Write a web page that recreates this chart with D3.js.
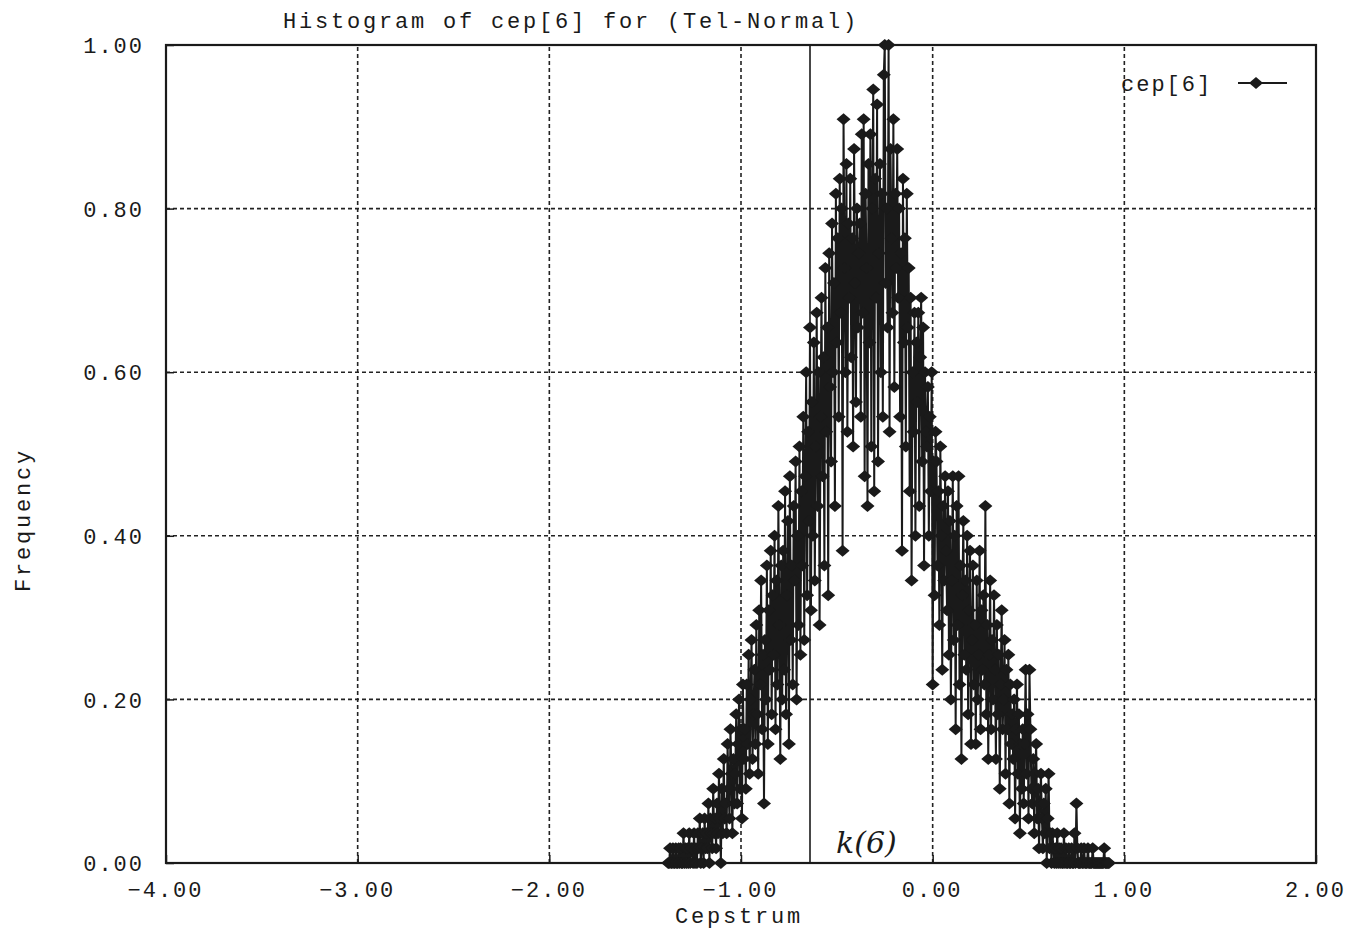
<!DOCTYPE html>
<html lang="en">
<head>
<meta charset="utf-8">
<title>Histogram of cep[6]</title>
<style>
  body { margin: 0; background: #fff; }
  svg { display: block; }
  text { font-family: "Liberation Mono", "DejaVu Sans Mono", monospace; fill: #1a1a1a; }
  .grid line { stroke: #222; stroke-width: 1.6; stroke-dasharray: 4,3; }
</style>
<script src="https://cdn.jsdelivr.net/npm/d3@7/dist/d3.min.js"></script>
</head>
<body>
<script>
// histogram of cep[6], bins of 0.005 starting at -1.38, counts scaled by the largest bin
var binStart = -1.38, binWidth = 0.005, maxCount = 55;
var counts = [
  0, 0, 1, 0, 0, 1, 0, 0, 1, 0,
  0, 1, 0, 1, 0, 0, 2, 0, 1, 0,
  1, 0, 2, 0, 1, 1, 0, 2, 0, 1,
  0, 2, 1, 3, 0, 1, 2, 0, 3, 1,
  2, 1, 4, 0, 3, 2, 1, 5, 2, 3,
  1, 4, 2, 6, 3, 0, 5, 2, 7, 3,
  4, 2, 8, 5, 3, 9, 6, 2, 7, 4,
  6, 10, 4, 8, 11, 5, 9, 3, 12, 7,
  9, 5, 12, 8, 14, 6, 11, 15, 7, 10,
  13, 8, 16, 10, 6, 17, 12, 19, 9, 14,
  4, 15, 11, 20, 8, 17, 13, 21, 10, 18,
  14, 22, 9, 19, 12, 24, 16, 7, 20, 11,
  21, 13, 25, 10, 18, 23, 8, 26, 15, 20,
  12, 24, 19, 27, 11, 22, 16, 28, 14, 25,
  20, 30, 15, 26, 33, 18, 29, 23, 36, 17,
  31, 22, 35, 19, 28, 37, 24, 33, 16, 30,
  38, 26, 34, 20, 40, 29, 36, 18, 41, 32,
  27, 43, 33, 39, 24, 45, 35, 42, 30, 46,
  37, 44, 21, 50, 40, 33, 47, 29, 43, 38,
  46, 34, 42, 28, 48, 39, 31, 44, 36, 41,
  43, 30, 49, 37, 50, 26, 45, 40, 24, 47,
  35, 49, 28, 44, 52, 25, 46, 38, 51, 27,
  41, 47, 33, 45, 30, 53, 55, 39, 44, 36,
  55, 29, 48, 42, 37, 50, 32, 45, 40, 48,
  38, 44, 30, 41, 21, 46, 35, 42, 28, 45,
  36, 40, 25, 38, 19, 33, 29, 37, 22, 35,
  31, 37, 24, 34, 38, 27, 36, 20, 33, 29,
  28, 32, 22, 30, 25, 33, 12, 27, 18, 29,
  27, 20, 25, 16, 28, 22, 13, 24, 19, 26,
  21, 17, 25, 14, 23, 11, 19, 26, 15, 22,
  9, 24, 16, 26, 12, 20, 7, 18, 23, 14,
  19, 13, 22, 10, 17, 21, 8, 15, 20, 12,
  16, 8, 19, 11, 14, 21, 9, 17, 13, 18,
  12, 24, 10, 16, 7, 14, 19, 9, 15, 11,
  18, 13, 7, 16, 10, 14, 5, 12, 17, 9,
  11, 15, 6, 13, 9, 14, 4, 12, 8, 10,
  7, 11, 3, 9, 12, 6, 10, 2, 8, 5,
  9, 4, 8, 13, 6, 10, 3, 13, 9, 5,
  4, 7, 2, 6, 8, 3, 5, 1, 4, 6,
  3, 1, 4, 2, 5, 0, 3, 6, 1, 2,
  0, 2, 1, 0, 1, 0, 2, 0, 1, 0,
  1, 0, 0, 2, 0, 1, 0, 0, 1, 0,
  0, 1, 0, 0, 2, 0, 4, 1, 0, 0,
  0, 1, 0, 0, 1, 0, 0, 0, 1, 0,
  0, 0, 0, 1, 0, 0, 0, 0, 0, 0,
  0, 0, 0, 0, 0, 1, 0, 0, 0, 0,
  0
];
var xTicks = [-4, -3, -2, -1, 0, 1, 2];
var yTicks = [0, 0.2, 0.4, 0.6, 0.8, 1.0];
var markerX = -0.64;   // hand drawn line k(6)

var data = counts.map(function(c, i) {
  return { x: binStart + i * binWidth, y: c / maxCount };
});

var width = 1368, height = 936;
var plotLeft = 166, plotRight = 1316, plotTop = 45, plotBottom = 863;

var svg = d3.select("body").append("svg")
  .attr("width", width)
  .attr("height", height);

var x = d3.scaleLinear().domain([-4, 2]).range([plotLeft, plotRight]);
var y = d3.scaleLinear().domain([0, 1]).range([plotBottom, plotTop]);

// grid
var grid = svg.append("g").attr("class", "grid");
grid.selectAll(".vx").data(xTicks.slice(1, -1)).enter().append("line")
  .attr("x1", function(d) { return x(d); }).attr("x2", function(d) { return x(d); })
  .attr("y1", plotBottom).attr("y2", plotTop);
grid.selectAll(".hy").data(yTicks.slice(1, -1)).enter().append("line")
  .attr("x1", plotLeft).attr("x2", plotRight)
  .attr("y1", function(d) { return y(d); }).attr("y2", function(d) { return y(d); });

// axes, ticks pointing inward like gnuplot
var fmt = d3.format(".2f");
var xAxis = svg.append("g").attr("transform", "translate(0," + plotBottom + ")")
  .call(d3.axisBottom(x).tickValues(xTicks).tickFormat(fmt).tickSize(-8).tickPadding(22));
var yAxis = svg.append("g").attr("transform", "translate(" + plotLeft + ",0)")
  .call(d3.axisLeft(y).tickValues(yTicks).tickFormat(fmt).tickSize(-8).tickPadding(22));
[xAxis, yAxis].forEach(function(a) {
  a.select(".domain").remove();
  a.selectAll(".tick line").attr("stroke", "#1a1a1a").attr("stroke-width", 1.5);
  a.selectAll(".tick text")
    .style("font-family", '"Liberation Mono", monospace')
    .style("font-size", "22px")
    .style("letter-spacing", "2px")
    .attr("fill", "#1a1a1a");
});
xAxis.selectAll(".tick text").attr("y", 22).attr("dy", "0.55em").attr("dx", "-1px");
yAxis.selectAll(".tick text").attr("x", -22).attr("dy", "0.35em");

// frame
svg.append("rect")
  .attr("x", plotLeft).attr("y", plotTop)
  .attr("width", plotRight - plotLeft).attr("height", plotBottom - plotTop)
  .attr("fill", "none").attr("stroke", "#1a1a1a").attr("stroke-width", 2.2);

// vertical line k(6)
svg.append("line")
  .attr("x1", x(markerX)).attr("x2", x(markerX))
  .attr("y1", plotBottom).attr("y2", plotTop)
  .attr("stroke", "#1a1a1a").attr("stroke-width", 1.6);
svg.append("text")
  .attr("x", x(markerX) + 26).attr("y", plotBottom - 10)
  .style("font-family", '"DejaVu Serif", serif')
  .style("font-style", "italic")
  .style("font-size", "30px")
  .text("k(6)");

// series
var line = d3.line().x(function(d) { return x(d.x); }).y(function(d) { return y(d.y); });
svg.append("path").datum(data)
  .attr("d", line)
  .attr("fill", "none")
  .attr("stroke", "#1a1a1a")
  .attr("stroke-width", 2);

var diamond = "M0,-6L7,0L0,6L-7,0Z";
svg.append("g").selectAll("path").data(data).enter().append("path")
  .attr("d", diamond)
  .attr("transform", function(d) { return "translate(" + x(d.x) + "," + y(d.y) + ")"; })
  .attr("fill", "#1a1a1a");

// legend
svg.append("text")
  .attr("x", 1121).attr("y", 91)
  .style("font-size", "22px").style("letter-spacing", "2px")
  .text("cep[6]");
svg.append("line")
  .attr("x1", 1238).attr("x2", 1287).attr("y1", 83).attr("y2", 83)
  .attr("stroke", "#1a1a1a").attr("stroke-width", 2);
svg.append("path").attr("d", diamond)
  .attr("transform", "translate(1256,83)").attr("fill", "#1a1a1a");

// titles
svg.append("text")
  .attr("x", 571).attr("y", 28)
  .attr("text-anchor", "middle")
  .style("font-size", "22px").style("letter-spacing", "2.8px")
  .text("Histogram of cep[6] for (Tel-Normal)");
svg.append("text")
  .attr("x", 739).attr("y", 923)
  .attr("text-anchor", "middle")
  .style("font-size", "22px").style("letter-spacing", "2.8px")
  .text("Cepstrum");
svg.append("text")
  .attr("transform", "translate(30,520) rotate(-90)")
  .attr("text-anchor", "middle")
  .style("font-size", "22px").style("letter-spacing", "2.8px")
  .text("Frequency");
</script>
</body>
</html>
